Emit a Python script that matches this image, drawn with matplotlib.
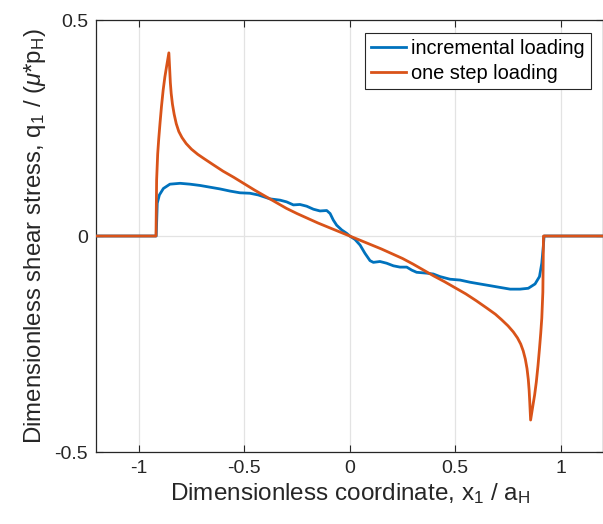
import matplotlib
matplotlib.use("Agg")
import matplotlib.pyplot as plt

plt.rcParams['font.family'] = ['Liberation Sans', 'DejaVu Sans']
plt.rcParams['mathtext.fontset'] = 'custom'
plt.rcParams['mathtext.rm'] = 'Liberation Sans'
plt.rcParams['mathtext.it'] = 'Liberation Sans:italic'
plt.rcParams['mathtext.default'] = 'regular'

# Shear traction along the contact, incremental vs. one-step loading
x_incremental = [-1.2, -0.917, -0.912, -0.902, -0.883, -0.852, -0.804, -0.757,
                 -0.709, -0.662, -0.615, -0.567, -0.520, -0.473, -0.433, -0.378,
                 -0.330, -0.299, -0.267, -0.236, -0.204, -0.172, -0.141, -0.109,
                 -0.093, -0.078, -0.062, -0.038, -0.014, 0.0, 0.025, 0.049,
                 0.072, 0.096, 0.112, 0.143, 0.175, 0.207, 0.238, 0.270, 0.294,
                 0.317, 0.365, 0.396, 0.428, 0.475, 0.523, 0.570, 0.617, 0.665,
                 0.712, 0.760, 0.807, 0.846, 0.878, 0.899, 0.910, 0.917, 0.921, 1.2]
q_incremental = [0.0, 0.0, 0.076, 0.095, 0.110, 0.120, 0.122, 0.120,
                 0.117, 0.113, 0.109, 0.104, 0.100, 0.099, 0.095, 0.086,
                 0.083, 0.079, 0.072, 0.073, 0.069, 0.062, 0.058, 0.059,
                 0.052, 0.037, 0.025, 0.014, 0.006, 0.0, -0.008, -0.021,
                 -0.040, -0.057, -0.061, -0.059, -0.063, -0.069, -0.072, -0.072, -0.079,
                 -0.084, -0.086, -0.088, -0.094, -0.100, -0.102, -0.107, -0.111, -0.115,
                 -0.119, -0.123, -0.123, -0.121, -0.111, -0.094, -0.063, -0.025, 0.0, 0.0]

x_onestep = [-1.2, -0.918, -0.915, -0.910, -0.905, -0.899, -0.892, -0.884,
             -0.876, -0.868, -0.857, -0.853, -0.850, -0.846, -0.840, -0.832,
             -0.822, -0.810, -0.795, -0.775, -0.750, -0.720, -0.690, -0.650,
             -0.600, -0.550, -0.500, -0.450, -0.400, -0.350, -0.300, -0.250,
             -0.200, -0.150, -0.100, -0.050, 0.0,
             0.050, 0.100, 0.150, 0.200, 0.250, 0.300, 0.350, 0.400, 0.450,
             0.500, 0.550, 0.600, 0.650, 0.690, 0.720, 0.750, 0.775, 0.795,
             0.810, 0.822, 0.832, 0.840, 0.846, 0.850, 0.853, 0.857,
             0.868, 0.876, 0.884, 0.892, 0.899, 0.905, 0.910, 0.915, 0.918, 1.2]
q_onestep = [0.0, 0.0, 0.130, 0.190, 0.225, 0.261, 0.300, 0.338,
             0.368, 0.392, 0.424, 0.385, 0.355, 0.330, 0.305, 0.282,
             0.260, 0.242, 0.228, 0.214, 0.201, 0.189, 0.179, 0.166,
             0.150, 0.136, 0.121, 0.106, 0.092, 0.078, 0.064, 0.052,
             0.041, 0.030, 0.020, 0.010, 0.0,
             -0.010, -0.020, -0.030, -0.041, -0.052, -0.065, -0.079, -0.093, -0.106,
             -0.120, -0.134, -0.150, -0.167, -0.181, -0.194, -0.208, -0.222, -0.236,
             -0.250, -0.266, -0.285, -0.307, -0.332, -0.357, -0.385, -0.426,
             -0.392, -0.368, -0.338, -0.300, -0.261, -0.225, -0.190, -0.130, 0.0, 0.0]

x_ticks = [-1, -0.5, 0, 0.5, 1]
x_ticklabels = ['-1', '-0.5', '0', '0.5', '1']
y_ticks = [-0.5, 0, 0.5]
y_ticklabels = ['-0.5', '0', '0.5']

fig = plt.figure(figsize=(6.03, 5.24), dpi=100)
ax = fig.add_axes([0.160, 0.1374, 0.84, 0.8244])

ax.plot(x_incremental, q_incremental, color='#0072BD', lw=2.0,
        label='incremental loading', zorder=3)
ax.plot(x_onestep, q_onestep, color='#D95319', lw=2.0,
        label='one step loading', zorder=3)

ax.set_xlim(-1.2, 1.2)
ax.set_ylim(-0.5, 0.5)
ax.set_xticks(x_ticks)
ax.set_xticklabels(x_ticklabels)
ax.set_yticks(y_ticks)
ax.set_yticklabels(y_ticklabels)
ax.grid(True, color='#e3e3e3', lw=0.9)
ax.set_axisbelow(True)
ax.tick_params(direction='in', length=5, width=0.8, labelsize=14,
               top=True, right=True, colors='#262626', pad=6)
for s in ax.spines.values():
    s.set_color('#262626')
    s.set_linewidth(0.9)

ax.set_xlabel('Dimensionless coordinate, x$_1$ / a$_H$', fontsize=17.5,
              color='#262626', labelpad=3)
ax.set_ylabel('Dimensionless shear stress, q$_1$ / ($\\mathit{\\mu}$*p$_H$)',
              fontsize=17.3, color='#262626', labelpad=5)

leg = ax.legend(loc='upper right', fontsize=14.4, fancybox=False,
                framealpha=1, edgecolor='#262626', handlelength=1.75,
                borderpad=0.3, labelspacing=0.3, handletextpad=0.25,
                borderaxespad=0.0, bbox_to_anchor=(0.976, 0.970))
leg.get_frame().set_linewidth(0.8)

fig.savefig('out.png', dpi=100)
